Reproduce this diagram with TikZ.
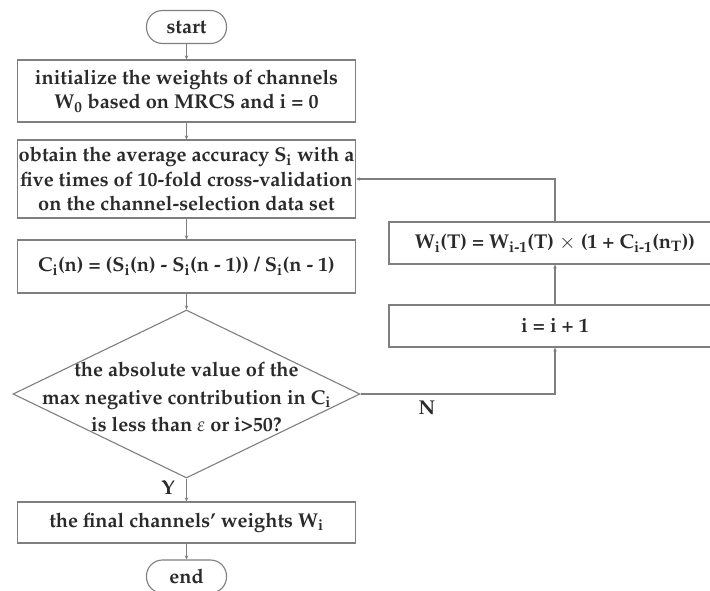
\documentclass[tikz,border=0pt]{standalone}
\usepackage[T1]{fontenc}
\usepackage{mathpazo}
\usetikzlibrary{shapes.geometric,arrows.meta}
\definecolor{ln}{HTML}{7F7F7F}
\definecolor{tx}{HTML}{2A2A2A}
\begin{document}
\begin{tikzpicture}[x=1pt,y=-1pt,
  txt/.style={text=tx, font=\fontsize{20}{24.5}\selectfont\bfseries, align=center, inner sep=0pt},
  box/.style={txt, draw=ln, line width=1.1pt},
  term/.style={box, rounded corners=16pt, minimum width=80pt, minimum height=33pt},
  arr/.style={draw=ln, line width=1.1pt, -{Stealth[length=4pt,width=3.5pt]}}]
\clip (0,0) rectangle (710,590);
\fill[white] (0,0) rectangle (710,590);
\node[term] (start) at (186.5,27) {start};
\node[box, minimum width=338pt, minimum height=62pt] (init) at (186.5,91)
  {initialize the weights of channels\\ W\textsubscript{0} based on MRCS and i = 0};
\node[box, minimum width=338pt, minimum height=78pt] (acc) at (186.5,179)
  {obtain the average accuracy S\textsubscript{i} with a\\ five times of 10-fold cross-validation\\ on the channel-selection data set};
\node[box, minimum width=338pt, minimum height=53pt] (cn) at (186.5,266.5)
  {C\textsubscript{i}(n) = (S\textsubscript{i}(n) - S\textsubscript{i}(n - 1)) / S\textsubscript{i}(n - 1)};
\node[diamond, draw=ln, line width=1.1pt, minimum width=347pt, minimum height=168pt, inner sep=0pt] (dec) at (186.5,394) {};
\node[txt, font=\fontsize{20}{27.5}\selectfont\bfseries] (dectext) at (186.5,397)
  {the absolute value of the\\ max negative contribution in C\textsubscript{i}\\ is less than $\varepsilon$ or i>50?};
\node[box, minimum width=338pt, minimum height=41pt] (fin) at (186.5,522.5)
  {the final channels' weights W\textsubscript{i}};
\node[term] (end) at (186.5,576.5) {end};
\node[box, minimum width=332pt, minimum height=42pt] (upd) at (555,243)
  {W\textsubscript{i}(T) = W\textsubscript{i-1}(T) $\times$ (1 + C\textsubscript{i-1}(n\textsubscript{T}))};
\node[box, minimum width=332pt, minimum height=42pt] (inc) at (555,326) {i = i + 1};
\node[txt] (nlab) at (427,408) {N};
\node[txt] (ylab) at (168,488) {Y};
\draw[arr] (start) -- (init);
\draw[arr] (init) -- (acc);
\draw[arr] (acc) -- (cn);
\draw[arr] (cn) -- (dec);
\draw[arr] (dec) -- (fin);
\draw[arr] (fin) -- (end);
\draw[arr] (dec.east) -| (inc.south);
\draw[arr] (inc) -- (upd);
\draw[arr] (upd.north) |- (acc.east);
\end{tikzpicture}
\end{document}
